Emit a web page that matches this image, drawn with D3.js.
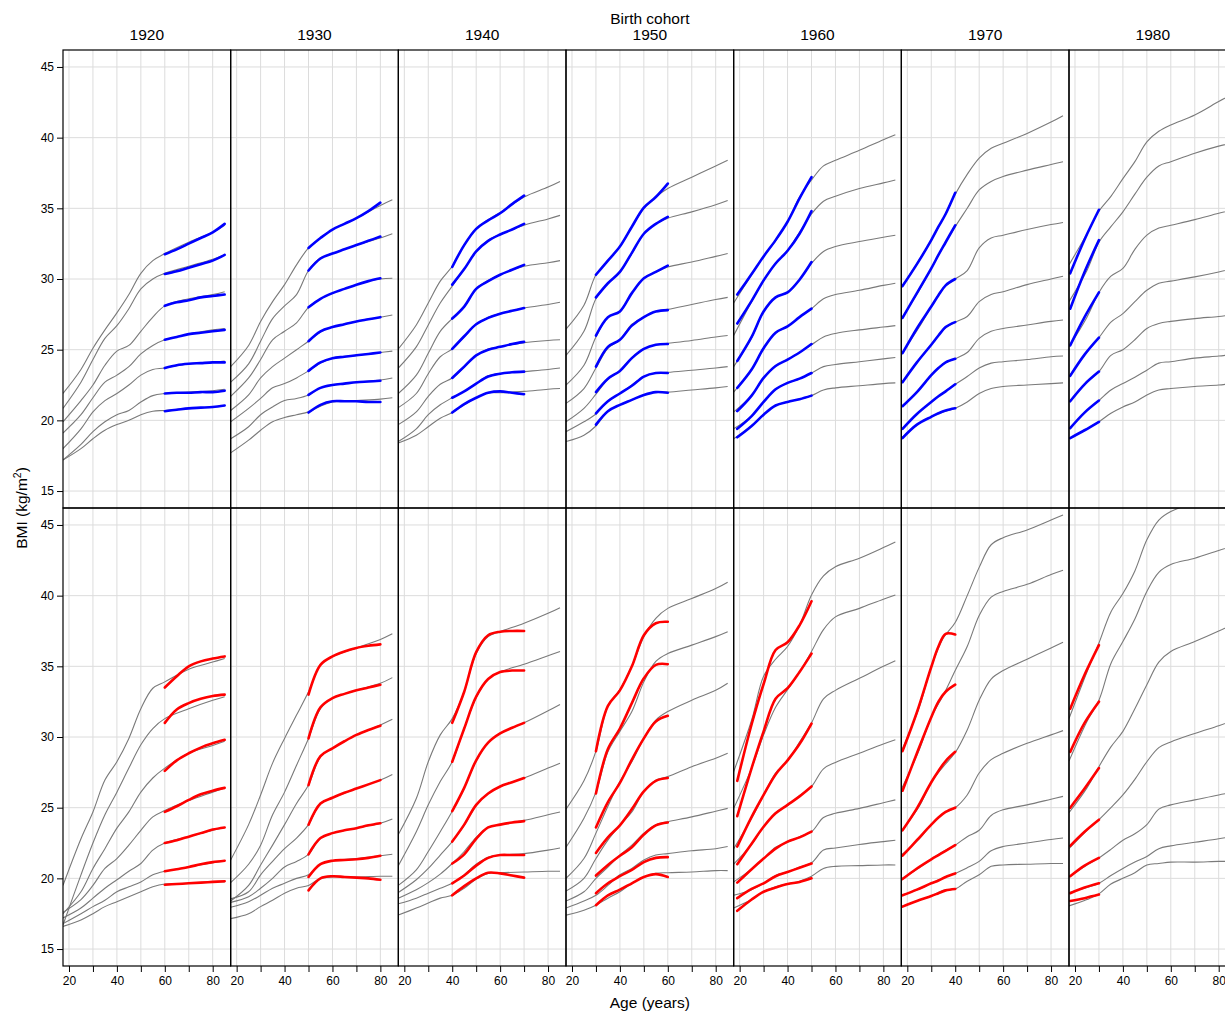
<!DOCTYPE html>
<html>
<head>
<meta charset="utf-8">
<script src="https://cdn.jsdelivr.net/npm/d3@7"></script>
<style>
  body { margin: 0; background: #fff; }
  svg { display: block; }
  text { font-family: "Liberation Sans", Arial, Helvetica, sans-serif; fill: #000; }
</style>
</head>
<body>
<svg id="chart" width="1225" height="1012"></svg>
<script>
// ---- Data -------------------------------------------------------------
const cohorts = ["1920", "1930", "1940", "1950", "1960", "1970", "1980"];

// ages at which the fitted centile curves (grey) are tabulated
const grayAges = [17.5, 25, 30, 35, 40, 45, 50, 55, 60, 70, 80, 85];

// ages covered by the observed data of each cohort
const obsAges1920 = [60, 65, 70, 75, 80, 85];
const obsAges1930 = [50, 55, 60, 65, 70, 75, 80];
const obsAges1940 = [40, 45, 50, 55, 60, 65, 70];
const obsAges1950 = [30, 35, 40, 45, 50, 55, 60];
const obsAges1960 = [19, 25, 30, 35, 40, 45, 50];
const obsAges1970 = [18, 24, 30, 33, 36, 40];
const obsAges1980 = [18, 24, 30];

// Men: fitted centile curves (7 centiles, highest first)
const menGray1920 = [
  [21.9, 23.6, 25.1, 26.4, 27.6, 28.9, 30.4, 31.3, 31.8, 32.6, 33.3, 33.8],
  [20.85, 22.7, 24.3, 25.8, 26.7, 27.9, 29.3, 30.0, 30.4, 30.9, 31.4, 31.7],
  [19.9, 21.4, 22.5, 23.9, 24.9, 25.3, 26.3, 27.3, 28.1, 28.6, 28.9, 29.1],
  [19.1, 20.4, 21.6, 22.7, 23.2, 23.8, 24.7, 25.3, 25.7, 26.1, 26.4, 26.5],
  [18.0, 19.4, 20.6, 21.4, 21.9, 22.5, 23.2, 23.6, 23.7, 24.0, 24.1, 24.2],
  [17.2, 18.3, 19.2, 19.9, 20.4, 20.7, 21.3, 21.75, 21.9, 22.0, 22.1, 22.2],
  [17.2, 18.0, 18.7, 19.3, 19.7, 20.0, 20.4, 20.65, 20.7, 20.85, 20.95, 21.05]
];
const menGray1930 = [
  [23.8, 25.3, 27.0, 28.4, 29.6, 31.0, 32.2, 32.9, 33.5, 34.3, 35.2, 35.6],
  [22.7, 24.0, 25.6, 27.2, 28.1, 28.9, 30.6, 31.5, 31.8, 32.4, 32.9, 33.2],
  [21.7, 23.0, 24.3, 25.7, 26.3, 26.9, 28.0, 28.6, 29.0, 29.6, 30.0, 30.05],
  [20.7, 21.8, 23.0, 23.8, 24.4, 25.0, 25.6, 26.25, 26.6, 27.0, 27.3, 27.45],
  [19.9, 20.85, 21.55, 22.3, 22.6, 23.0, 23.5, 24.05, 24.4, 24.6, 24.8, 24.9],
  [18.7, 19.55, 20.4, 20.95, 21.4, 21.55, 21.8, 22.3, 22.5, 22.7, 22.85, 23.0],
  [17.7, 18.6, 19.3, 19.9, 20.2, 20.4, 20.6, 21.0, 21.3, 21.4, 21.5, 21.6]
];
const menGray1940 = [
  [25.05, 26.75, 28.3, 29.85, 30.9, 32.4, 33.55, 34.2, 34.7, 35.8, 36.5, 36.9],
  [23.7, 25.2, 26.75, 28.3, 29.5, 30.7, 31.95, 32.75, 33.15, 33.8, 34.25, 34.5],
  [21.9, 23.2, 24.75, 26.3, 27.2, 28.0, 29.3, 29.9, 30.3, 30.9, 31.15, 31.3],
  [20.9, 21.9, 23.3, 24.5, 25.05, 25.9, 26.8, 27.3, 27.55, 27.95, 28.2, 28.35],
  [19.7, 20.6, 21.7, 22.55, 23.0, 23.75, 24.6, 25.05, 25.2, 25.5, 25.65, 25.7],
  [18.5, 19.4, 20.4, 21.1, 21.6, 22.05, 22.6, 23.15, 23.3, 23.45, 23.6, 23.7],
  [18.4, 18.95, 19.55, 20.15, 20.55, 21.1, 21.6, 21.95, 21.95, 22.05, 22.2, 22.25]
];
const menGray1950 = [
  [26.45, 28.15, 30.3, 31.3, 32.3, 33.7, 35.0, 35.8, 36.4, 37.2, 38.0, 38.4],
  [24.6, 26.3, 28.6, 29.7, 30.5, 31.8, 33.2, 33.9, 34.3, 34.75, 35.25, 35.55],
  [22.5, 23.9, 25.9, 27.3, 27.7, 29.0, 30.05, 30.5, 30.85, 31.2, 31.6, 31.8],
  [21.2, 22.25, 23.7, 25.1, 25.7, 26.8, 27.3, 27.7, 27.85, 28.2, 28.55, 28.7],
  [19.9, 20.85, 21.85, 22.9, 23.5, 24.45, 25.05, 25.35, 25.45, 25.65, 25.9, 26.0],
  [19.2, 19.9, 20.45, 21.35, 21.9, 22.5, 23.1, 23.35, 23.4, 23.55, 23.7, 23.8],
  [18.5, 18.95, 19.6, 20.65, 21.1, 21.45, 21.8, 22.0, 22.0, 22.15, 22.3, 22.4]
];
const menGray1960 = [
  [28.3, 30.3, 31.6, 32.7, 34.05, 35.8, 37.0, 38.0, 38.4, 39.1, 39.85, 40.2],
  [26.0, 28.4, 29.9, 31.1, 32.0, 33.3, 34.6, 35.5, 35.85, 36.4, 36.8, 37.0],
  [23.8, 25.85, 27.7, 28.7, 29.05, 29.95, 31.1, 31.95, 32.3, 32.65, 32.95, 33.1],
  [22.0, 23.6, 25.1, 26.2, 26.65, 27.3, 27.9, 28.6, 28.9, 29.2, 29.55, 29.7],
  [20.6, 21.75, 23.0, 23.85, 24.3, 24.8, 25.35, 25.9, 26.15, 26.4, 26.6, 26.7],
  [19.4, 20.3, 21.3, 22.2, 22.65, 22.95, 23.35, 23.8, 23.95, 24.15, 24.35, 24.45],
  [18.7, 19.6, 20.4, 21.05, 21.3, 21.5, 21.75, 22.15, 22.3, 22.45, 22.6, 22.65]
];
const menGray1970 = [
  [29.4, 31.35, 32.75, 34.3, 36.0, 37.4, 38.55, 39.25, 39.6, 40.3, 41.1, 41.55],
  [27.2, 29.2, 30.75, 32.3, 33.7, 35.0, 36.3, 36.9, 37.25, 37.7, 38.1, 38.3],
  [24.7, 26.6, 28.05, 29.35, 30.0, 30.6, 32.2, 32.9, 33.1, 33.5, 33.85, 34.0],
  [22.65, 24.3, 25.35, 26.4, 26.95, 27.35, 28.4, 28.9, 29.1, 29.6, 30.0, 30.2],
  [20.95, 22.2, 23.2, 24.0, 24.35, 24.8, 25.8, 26.3, 26.5, 26.75, 27.0, 27.1],
  [19.35, 20.6, 21.3, 21.95, 22.55, 23.1, 23.7, 24.05, 24.15, 24.3, 24.5, 24.55],
  [18.75, 19.8, 20.25, 20.6, 20.85, 21.3, 21.9, 22.25, 22.4, 22.5, 22.6, 22.65]
];
const menGray1980 = [
  [31.0, 33.2, 34.8, 35.85, 37.1, 38.3, 39.7, 40.45, 40.9, 41.6, 42.55, 43.0],
  [28.4, 30.6, 32.6, 33.7, 34.75, 36.0, 37.2, 38.0, 38.3, 38.9, 39.4, 39.6],
  [25.2, 27.3, 29.05, 30.2, 30.75, 32.1, 33.1, 33.6, 33.8, 34.2, 34.65, 34.85],
  [23.1, 24.85, 25.85, 26.95, 27.55, 28.4, 29.2, 29.7, 29.85, 30.15, 30.5, 30.7],
  [21.3, 22.7, 23.45, 24.6, 25.0, 25.7, 26.5, 26.85, 27.0, 27.2, 27.35, 27.45],
  [19.4, 20.7, 21.4, 22.15, 22.6, 23.05, 23.55, 24.05, 24.15, 24.4, 24.55, 24.65],
  [18.7, 19.4, 19.9, 20.5, 20.95, 21.3, 21.8, 22.15, 22.25, 22.4, 22.5, 22.6]
];

// Men: observed centiles over each cohort's age range
const menObs1920 = [
  [31.75, 32.1, 32.5, 32.9, 33.3, 33.9],
  [30.35, 30.55, 30.8, 31.05, 31.3, 31.7],
  [28.1, 28.35, 28.5, 28.7, 28.8, 28.9],
  [25.7, 25.9, 26.1, 26.2, 26.3, 26.4],
  [23.7, 23.9, 24.0, 24.05, 24.1, 24.1],
  [21.9, 21.95, 21.95, 22.0, 22.0, 22.1],
  [20.65, 20.75, 20.85, 20.9, 20.95, 21.05]
];
const menObs1930 = [
  [32.2, 32.9, 33.5, 33.9, 34.3, 34.8, 35.4],
  [30.6, 31.45, 31.8, 32.1, 32.4, 32.7, 33.0],
  [28.0, 28.6, 29.0, 29.3, 29.6, 29.85, 30.05],
  [25.6, 26.3, 26.6, 26.8, 27.0, 27.15, 27.3],
  [23.5, 24.1, 24.4, 24.5, 24.6, 24.7, 24.8],
  [21.8, 22.3, 22.5, 22.6, 22.7, 22.75, 22.8],
  [20.55, 21.1, 21.35, 21.35, 21.35, 21.3, 21.3]
];
const menObs1940 = [
  [30.85, 32.4, 33.55, 34.15, 34.65, 35.3, 35.9],
  [29.6, 30.7, 31.95, 32.7, 33.15, 33.5, 33.9],
  [27.2, 28.05, 29.3, 29.85, 30.3, 30.65, 31.0],
  [25.05, 25.95, 26.8, 27.25, 27.55, 27.75, 27.95],
  [23.0, 23.8, 24.6, 25.0, 25.2, 25.4, 25.55],
  [21.6, 22.05, 22.6, 23.1, 23.3, 23.4, 23.45],
  [20.55, 21.15, 21.6, 21.95, 22.05, 21.95, 21.85]
];
const menObs1950 = [
  [30.3, 31.3, 32.3, 33.7, 35.05, 35.8, 36.75],
  [28.7, 29.7, 30.5, 31.85, 33.2, 33.9, 34.4],
  [26.0, 27.3, 27.7, 29.0, 30.05, 30.5, 30.95],
  [23.8, 25.2, 25.7, 26.7, 27.3, 27.7, 27.8],
  [22.0, 22.95, 23.5, 24.4, 25.05, 25.35, 25.4],
  [20.5, 21.35, 21.9, 22.45, 23.1, 23.35, 23.35],
  [19.7, 20.65, 21.1, 21.45, 21.8, 22.0, 21.95]
];
const menObs1960 = [
  [28.9, 30.35, 31.6, 32.75, 34.05, 35.7, 37.2],
  [26.85, 28.45, 29.9, 31.1, 32.0, 33.2, 34.8],
  [24.2, 25.9, 27.7, 28.7, 29.05, 29.95, 31.2],
  [22.3, 23.6, 25.1, 26.2, 26.65, 27.3, 27.9],
  [20.65, 21.75, 23.0, 23.85, 24.3, 24.8, 25.4],
  [19.4, 20.3, 21.3, 22.2, 22.65, 22.95, 23.35],
  [18.8, 19.6, 20.4, 21.05, 21.3, 21.5, 21.75]
];
const menObs1970 = [
  [29.5, 31.05, 32.75, 33.7, 34.6, 36.1],
  [27.25, 29.0, 30.75, 31.7, 32.6, 33.8],
  [24.75, 26.5, 28.05, 28.85, 29.55, 30.0],
  [22.7, 24.1, 25.35, 26.0, 26.6, 26.95],
  [21.0, 22.0, 23.2, 23.7, 24.1, 24.35],
  [19.4, 20.45, 21.3, 21.7, 22.05, 22.55],
  [18.75, 19.7, 20.25, 20.5, 20.7, 20.85]
];
const menObs1980 = [
  [30.4, 32.8, 34.9],
  [27.9, 30.5, 32.75],
  [25.3, 27.3, 29.05],
  [23.15, 24.65, 25.85],
  [21.35, 22.55, 23.45],
  [19.45, 20.55, 21.4],
  [18.75, 19.3, 19.9]
];

// Women: fitted centile curves
const womenGray1920 = [
  [19.5, 22.8, 24.7, 26.95, 28.25, 29.9, 32.0, 33.45, 33.9, 34.8, 35.3, 35.55],
  [16.7, 20.25, 22.5, 24.5, 26.1, 27.8, 29.45, 30.6, 31.3, 32.0, 32.6, 32.85],
  [17.5, 19.05, 20.7, 22.1, 23.55, 24.7, 26.1, 27.1, 27.8, 28.85, 29.4, 29.7],
  [17.6, 18.5, 19.5, 20.7, 21.4, 22.35, 23.4, 24.35, 24.8, 25.5, 26.1, 26.4],
  [17.2, 17.9, 18.6, 19.3, 19.9, 20.5, 21.05, 22.0, 22.5, 22.95, 23.4, 23.6],
  [16.8, 17.5, 18.0, 18.45, 19.05, 19.4, 19.75, 20.25, 20.5, 20.8, 21.1, 21.25],
  [16.6, 17.05, 17.5, 18.0, 18.35, 18.7, 19.05, 19.4, 19.6, 19.65, 19.75, 19.75]
];
const womenGray1930 = [
  [21.3, 23.8, 25.9, 28.15, 29.9, 31.55, 33.2, 35.1, 35.7, 36.3, 36.9, 37.3],
  [19.7, 21.0, 22.35, 24.5, 26.1, 28.0, 29.9, 32.0, 32.75, 33.3, 33.8, 34.2],
  [18.4, 19.5, 20.95, 22.35, 23.8, 25.3, 26.6, 28.6, 29.2, 30.15, 30.85, 31.25],
  [18.55, 19.05, 20.25, 21.2, 22.1, 22.85, 23.8, 25.3, 25.7, 26.35, 26.95, 27.35],
  [18.3, 18.7, 19.3, 20.0, 20.8, 21.2, 21.7, 22.85, 23.2, 23.55, 23.9, 24.2],
  [17.95, 18.35, 18.8, 19.3, 19.65, 20.0, 20.25, 21.0, 21.25, 21.4, 21.6, 21.7],
  [17.15, 17.5, 18.0, 18.45, 18.95, 19.3, 19.5, 20.0, 20.1, 20.1, 20.15, 20.15]
];
const womenGray1940 = [
  [23.1, 25.65, 28.25, 30.15, 31.3, 33.2, 35.9, 37.1, 37.45, 38.05, 38.75, 39.15],
  [20.9, 23.3, 25.2, 26.85, 28.25, 30.6, 32.8, 34.1, 34.6, 35.15, 35.75, 36.05],
  [19.5, 20.6, 21.9, 23.3, 24.75, 26.4, 28.3, 29.6, 30.25, 31.0, 31.85, 32.3],
  [19.0, 19.9, 20.7, 21.65, 22.6, 23.75, 25.15, 26.0, 26.5, 27.1, 27.8, 28.15],
  [18.6, 19.2, 19.7, 20.3, 21.05, 21.9, 22.9, 23.6, 23.8, 24.1, 24.5, 24.7],
  [18.2, 18.6, 18.95, 19.3, 19.65, 20.25, 21.0, 21.5, 21.65, 21.75, 22.0, 22.15],
  [17.4, 17.9, 18.25, 18.6, 18.8, 19.3, 19.95, 20.35, 20.4, 20.45, 20.5, 20.5]
];
const womenGray1950 = [
  [24.9, 26.9, 29.0, 32.2, 33.35, 35.0, 37.1, 38.4, 39.1, 39.8, 40.5, 40.95],
  [22.2, 24.25, 26.1, 28.95, 30.4, 31.8, 33.9, 35.35, 35.9, 36.5, 37.1, 37.45],
  [20.0, 21.4, 23.2, 25.1, 26.85, 28.25, 29.9, 31.2, 31.8, 32.6, 33.3, 33.8],
  [19.1, 20.0, 21.4, 22.7, 23.75, 24.7, 26.15, 26.95, 27.2, 27.9, 28.5, 28.85],
  [18.4, 19.05, 20.0, 20.8, 21.65, 22.35, 23.2, 23.8, 24.0, 24.35, 24.75, 24.95],
  [17.9, 18.4, 18.8, 19.5, 20.25, 20.7, 21.3, 21.65, 21.75, 21.95, 22.1, 22.25],
  [17.4, 17.75, 18.1, 18.6, 19.05, 19.65, 20.1, 20.35, 20.4, 20.45, 20.55, 20.55]
];
const womenGray1960 = [
  [27.55, 31.2, 34.3, 35.5, 36.4, 37.9, 40.05, 41.4, 42.05, 42.65, 43.4, 43.8],
  [24.95, 27.8, 30.15, 32.1, 33.35, 34.6, 36.05, 37.6, 38.5, 39.1, 39.75, 40.05],
  [22.1, 24.25, 25.9, 27.45, 28.3, 29.65, 31.0, 32.7, 33.3, 34.15, 35.0, 35.4],
  [21.0, 22.4, 23.65, 24.65, 25.15, 25.85, 26.5, 27.75, 28.2, 28.85, 29.5, 29.8],
  [19.75, 20.65, 21.4, 22.2, 22.55, 22.95, 23.3, 24.3, 24.6, 24.95, 25.35, 25.55],
  [18.8, 19.2, 19.65, 20.2, 20.45, 20.8, 21.1, 22.0, 22.15, 22.4, 22.6, 22.7],
  [17.9, 18.5, 19.05, 19.4, 19.6, 19.8, 20.15, 20.7, 20.85, 20.9, 20.95, 20.95]
];
const womenGray1970 = [
  [29.0, 32.1, 34.95, 37.0, 38.1, 40.0, 42.0, 43.6, 44.1, 44.65, 45.35, 45.7],
  [26.3, 29.1, 31.4, 32.95, 34.7, 36.4, 38.6, 39.9, 40.3, 40.8, 41.5, 41.8],
  [23.3, 25.1, 26.8, 27.9, 28.9, 30.5, 32.6, 34.1, 34.7, 35.5, 36.3, 36.7],
  [21.65, 22.8, 23.8, 24.6, 25.0, 25.9, 27.45, 28.4, 28.85, 29.55, 30.15, 30.45],
  [19.95, 20.75, 21.35, 21.9, 22.35, 22.95, 23.4, 24.45, 24.85, 25.2, 25.6, 25.8],
  [18.8, 19.25, 19.65, 20.05, 20.35, 20.75, 21.2, 21.95, 22.25, 22.5, 22.75, 22.85],
  [18.0, 18.45, 18.75, 19.15, 19.25, 19.8, 20.25, 20.85, 20.95, 21.0, 21.05, 21.05]
];
const womenGray1980 = [
  [31.3, 34.6, 36.65, 38.85, 40.15, 41.75, 43.95, 45.35, 45.95, 46.6, 47.2, 47.5],
  [28.3, 31.1, 32.6, 35.2, 36.75, 38.35, 40.3, 41.65, 42.2, 42.65, 43.2, 43.45],
  [24.65, 26.4, 27.9, 29.3, 30.4, 32.0, 33.7, 35.3, 36.05, 36.75, 37.5, 37.9],
  [22.1, 23.4, 24.15, 25.0, 25.9, 27.0, 28.25, 29.25, 29.65, 30.25, 30.8, 31.1],
  [20.1, 20.95, 21.45, 22.05, 22.7, 23.15, 23.8, 24.9, 25.2, 25.55, 25.9, 26.05],
  [19.0, 19.35, 19.65, 20.2, 20.7, 21.15, 21.55, 22.1, 22.3, 22.55, 22.8, 22.95],
  [18.05, 18.5, 18.9, 19.6, 20.0, 20.4, 20.95, 21.05, 21.15, 21.15, 21.2, 21.2]
];

// Women: observed centiles over each cohort's age range
const womenObs1920 = [
  [33.5, 34.3, 35.0, 35.35, 35.55, 35.7],
  [31.0, 31.95, 32.4, 32.7, 32.9, 33.0],
  [27.6, 28.35, 28.85, 29.25, 29.55, 29.8],
  [24.7, 25.1, 25.55, 25.95, 26.2, 26.4],
  [22.5, 22.7, 22.95, 23.2, 23.45, 23.6],
  [20.5, 20.65, 20.8, 21.0, 21.15, 21.25],
  [19.55, 19.6, 19.65, 19.7, 19.75, 19.8]
];
const womenObs1930 = [
  [33.0, 35.1, 35.7, 36.05, 36.3, 36.45, 36.55],
  [29.9, 32.1, 32.75, 33.05, 33.3, 33.5, 33.7],
  [26.6, 28.65, 29.2, 29.7, 30.15, 30.5, 30.8],
  [23.8, 25.3, 25.7, 26.05, 26.35, 26.65, 26.95],
  [21.7, 22.85, 23.2, 23.4, 23.55, 23.75, 23.9],
  [20.1, 21.0, 21.25, 21.3, 21.35, 21.45, 21.6],
  [19.15, 20.0, 20.15, 20.1, 20.05, 20.0, 19.9]
];
const womenObs1940 = [
  [31.0, 33.2, 36.0, 37.2, 37.45, 37.5, 37.5],
  [28.25, 30.6, 32.85, 34.1, 34.6, 34.7, 34.7],
  [24.75, 26.4, 28.35, 29.6, 30.25, 30.65, 31.0],
  [22.6, 23.8, 25.2, 26.0, 26.5, 26.8, 27.1],
  [21.05, 21.7, 22.8, 23.6, 23.8, 23.95, 24.05],
  [19.65, 20.2, 20.9, 21.45, 21.65, 21.65, 21.65],
  [18.8, 19.45, 20.0, 20.4, 20.35, 20.2, 20.05]
];
const womenObs1950 = [
  [29.0, 32.2, 33.3, 35.0, 37.2, 38.05, 38.15],
  [26.0, 29.15, 30.6, 32.4, 34.15, 35.1, 35.15],
  [23.6, 25.4, 26.75, 28.4, 29.9, 31.1, 31.5],
  [21.8, 22.9, 23.75, 24.9, 26.15, 26.9, 27.1],
  [20.2, 20.95, 21.6, 22.2, 23.1, 23.75, 23.95],
  [18.95, 19.65, 20.15, 20.6, 21.15, 21.45, 21.5],
  [18.1, 18.8, 19.2, 19.65, 20.1, 20.3, 20.1]
];
const womenObs1960 = [
  [26.9, 30.9, 33.75, 36.15, 36.7, 37.9, 39.6],
  [24.4, 27.8, 30.4, 32.7, 33.45, 34.6, 35.9],
  [22.25, 24.35, 25.9, 27.35, 28.35, 29.5, 30.95],
  [21.0, 22.45, 23.65, 24.6, 25.2, 25.8, 26.5],
  [19.7, 20.65, 21.4, 22.1, 22.6, 22.9, 23.3],
  [18.6, 19.25, 19.65, 20.15, 20.45, 20.75, 21.05],
  [17.7, 18.5, 19.05, 19.35, 19.6, 19.75, 20.0]
];
const womenObs1970 = [
  [29.0, 31.75, 34.95, 36.4, 37.3, 37.25],
  [26.2, 28.85, 31.4, 32.5, 33.2, 33.7],
  [23.4, 24.95, 26.8, 27.6, 28.3, 28.95],
  [21.6, 22.7, 23.8, 24.3, 24.7, 25.0],
  [19.95, 20.7, 21.35, 21.65, 21.95, 22.35],
  [18.8, 19.2, 19.65, 19.85, 20.1, 20.35],
  [18.0, 18.4, 18.75, 18.95, 19.15, 19.25]
];
const womenObs1980 = [
  [32.0, 34.4, 36.5],
  [28.95, 31.0, 32.5],
  [25.0, 26.35, 27.8],
  [22.3, 23.3, 24.15],
  [20.15, 20.9, 21.45],
  [18.95, 19.35, 19.65],
  [18.4, 18.6, 18.85]
];

const ageTicks = [20, 30, 40, 50, 60, 70, 80];
const ageLabels = [20, 40, 60, 80];
const bmiTicks = [15, 20, 25, 30, 35, 40, 45];

// ---- Assemble lookups ---------------------------------------------------
const obsAges = [obsAges1920, obsAges1930, obsAges1940, obsAges1950, obsAges1960, obsAges1970, obsAges1980];
const rows = [
  { key: "men", color: "#0000ff",
    gray: [menGray1920, menGray1930, menGray1940, menGray1950, menGray1960, menGray1970, menGray1980],
    obs: [menObs1920, menObs1930, menObs1940, menObs1950, menObs1960, menObs1970, menObs1980] },
  { key: "women", color: "#ff0000",
    gray: [womenGray1920, womenGray1930, womenGray1940, womenGray1950, womenGray1960, womenGray1970, womenGray1980],
    obs: [womenObs1920, womenObs1930, womenObs1940, womenObs1950, womenObs1960, womenObs1970, womenObs1980] }
];

// ---- Layout -------------------------------------------------------------
const plotLeft = 63, plotTop = 50;
const panelW = (1069 - 63) / 6;
const panelH = 458;
const ageDomain = [17.5, 87.5];
const bmiDomain = [13.8, 46.2];

const svg = d3.select("#chart");
const defs = svg.append("defs");

const yScales = rows.map((r, i) =>
  d3.scaleLinear().domain(bmiDomain).range([plotTop + (i + 1) * panelH, plotTop + i * panelH]));
const xScales = cohorts.map((c, j) =>
  d3.scaleLinear().domain(ageDomain).range([plotLeft + j * panelW, plotLeft + (j + 1) * panelW]));

const curve = d3.curveCatmullRom.alpha(0.5);

rows.forEach((row, i) => {
  const y = yScales[i];
  cohorts.forEach((c, j) => {
    const x = xScales[j];
    const x0 = x.range()[0], y0 = y.range()[1];
    const clipId = `clip-${row.key}-${c}`;
    defs.append("clipPath").attr("id", clipId)
      .append("rect").attr("x", x0).attr("y", y0).attr("width", panelW).attr("height", panelH);

    const g = svg.append("g").attr("class", `panel ${row.key}-${c}`);

    // reference grid
    g.append("g").selectAll("line").data(ageTicks).join("line")
      .attr("x1", d => x(d)).attr("x2", d => x(d))
      .attr("y1", y0).attr("y2", y0 + panelH)
      .attr("stroke", "#dcdcdc").attr("stroke-width", 1);
    g.append("g").selectAll("line").data(bmiTicks).join("line")
      .attr("x1", x0).attr("x2", x0 + panelW)
      .attr("y1", d => y(d)).attr("y2", d => y(d))
      .attr("stroke", "#dcdcdc").attr("stroke-width", 1);

    const body = g.append("g").attr("clip-path", `url(#${clipId})`);
    const line = d3.line().x(d => x(d[0])).y(d => y(d[1])).curve(curve);

    // fitted centile curves
    body.append("g").selectAll("path").data(row.gray[j]).join("path")
      .attr("d", vals => line(grayAges.map((a, k) => [a, vals[k]])))
      .attr("fill", "none").attr("stroke", "#7a7a7a").attr("stroke-width", 1.1);

    // observed centiles
    const ages = obsAges[j];
    body.append("g").selectAll("path").data(row.obs[j]).join("path")
      .attr("d", vals => line(ages.map((a, k) => [a, vals[k]])))
      .attr("fill", "none").attr("stroke", row.color)
      .attr("stroke-width", 2.6).attr("stroke-linecap", "round").attr("stroke-linejoin", "round");
  });
});

// panel frames
const frames = svg.append("g").attr("fill", "none").attr("stroke", "#000");
rows.forEach((row, i) => {
  cohorts.forEach((c, j) => {
    frames.append("rect")
      .attr("x", plotLeft + j * panelW).attr("y", plotTop + i * panelH)
      .attr("width", panelW).attr("height", panelH)
      .attr("stroke-width", 1.2);
  });
});

// bottom axes (one per column)
cohorts.forEach((c, j) => {
  const ax = d3.axisBottom(xScales[j]).tickValues(ageTicks).tickSize(6).tickPadding(4)
    .tickFormat(d => ageLabels.includes(d) ? d : "");
  const ga = svg.append("g").attr("transform", `translate(0,${plotTop + 2 * panelH})`).call(ax);
  ga.select(".domain").remove();
  ga.selectAll("line").attr("stroke", "#000");
  ga.selectAll("text").attr("font-size", 12).attr("fill", "#000");
});

// left axes (one per row)
rows.forEach((row, i) => {
  const ay = d3.axisLeft(yScales[i]).tickValues(bmiTicks).tickSize(6).tickPadding(3);
  const ga = svg.append("g").attr("transform", `translate(${plotLeft},0)`).call(ay);
  ga.select(".domain").remove();
  ga.selectAll("line").attr("stroke", "#000");
  ga.selectAll("text").attr("font-size", 12).attr("fill", "#000");
});

// cohort labels across the top
svg.append("g").selectAll("text").data(cohorts).join("text")
  .attr("x", (c, j) => plotLeft + (j + 0.5) * panelW)
  .attr("y", 40)
  .attr("text-anchor", "middle").attr("font-size", 15.5)
  .text(c => c);

svg.append("text")
  .attr("x", plotLeft + 3.5 * panelW).attr("y", 24)
  .attr("text-anchor", "middle").attr("font-size", 15.5)
  .text("Birth cohort");

svg.append("text")
  .attr("x", plotLeft + 3.5 * panelW).attr("y", 1008)
  .attr("text-anchor", "middle").attr("font-size", 15.5)
  .text("Age (years)");

const ylab = svg.append("text")
  .attr("transform", `translate(27,${plotTop + panelH}) rotate(-90)`)
  .attr("text-anchor", "middle").attr("font-size", 15.5);
ylab.append("tspan").text("BMI (kg/m");
ylab.append("tspan").attr("font-size", 10.5).attr("dy", -6).text("2");
ylab.append("tspan").attr("dy", 6).text(")");
</script>
</body>
</html>
